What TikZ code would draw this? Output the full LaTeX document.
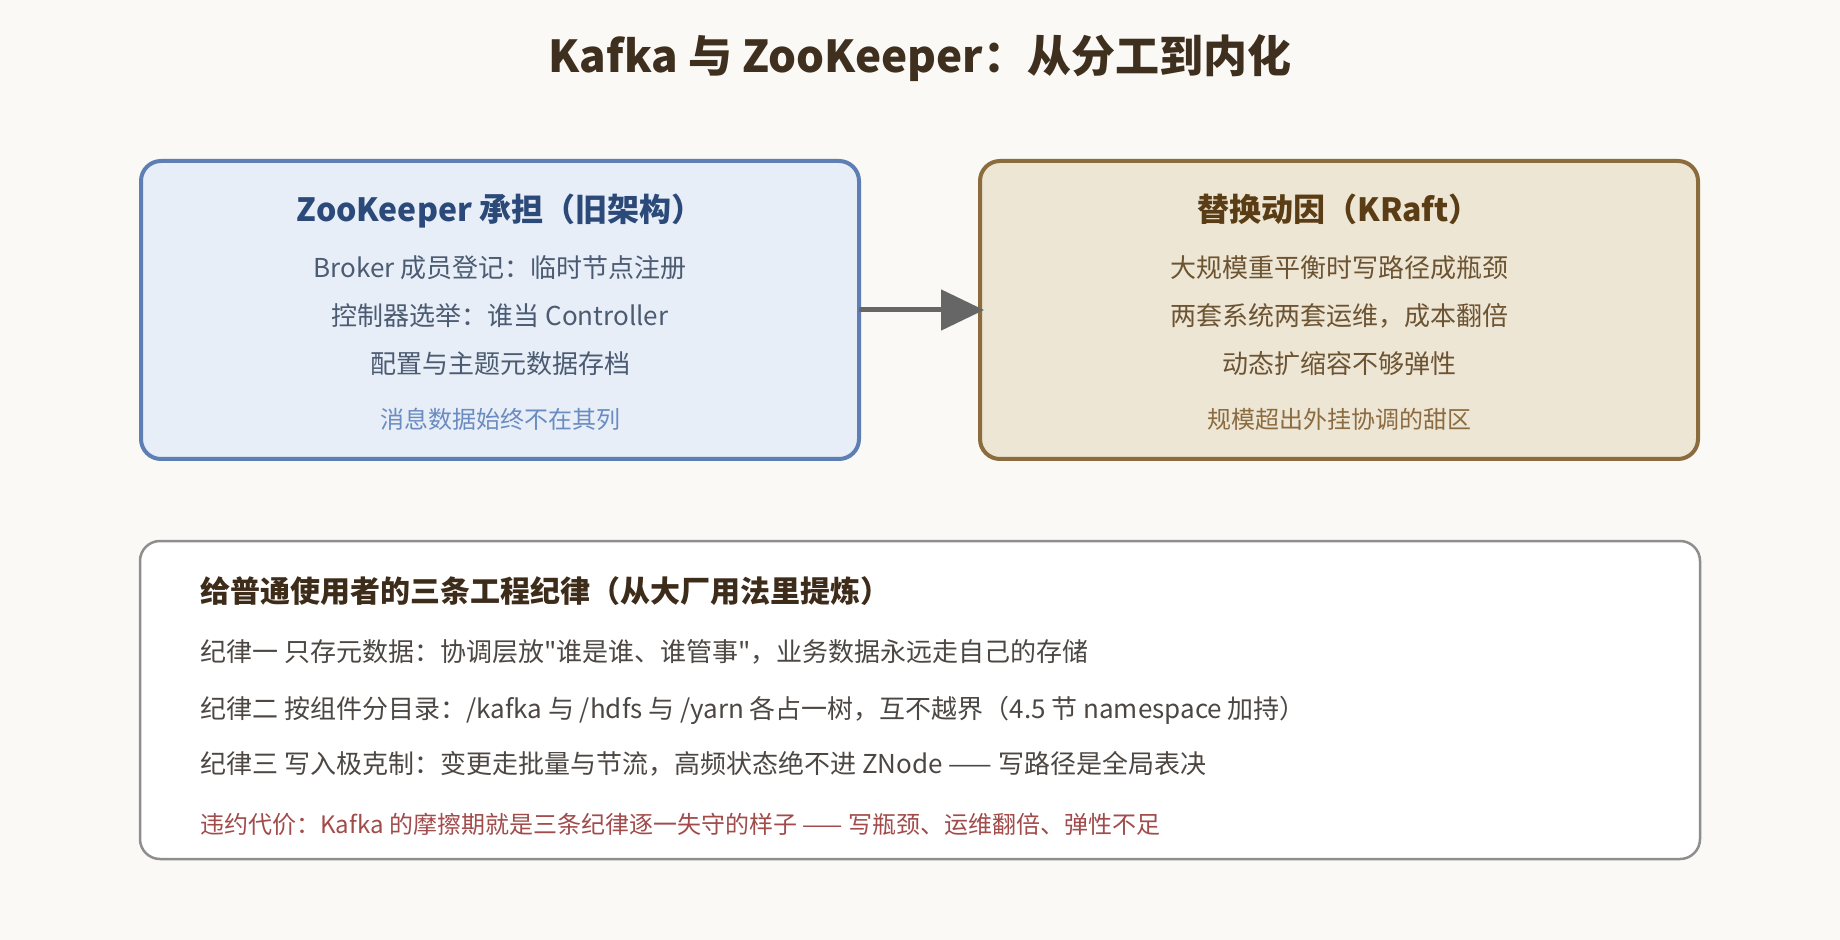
\documentclass[tikz,border=0pt]{standalone}
\usepackage{fontspec}
\setmainfont{Noto Sans CJK SC}[Ligatures=TeXOff]
\usetikzlibrary{positioning,arrows.meta}
\definecolor{bgcream}{HTML}{FAF9F5}
\definecolor{zkfill}{HTML}{E7EEF8}
\definecolor{zkline}{HTML}{5D7FB4}
\definecolor{zktitle}{HTML}{2C4A79}
\definecolor{zkbody}{HTML}{4B5B72}
\definecolor{zknote}{HTML}{6A8CC0}
\definecolor{krfill}{HTML}{EEE6D5}
\definecolor{krline}{HTML}{8C6B3C}
\definecolor{krtitle}{HTML}{5A3D15}
\definecolor{krbody}{HTML}{6C5433}
\definecolor{krnote}{HTML}{8B6B40}
\definecolor{ruleline}{HTML}{8E8E8E}
\definecolor{rulehead}{HTML}{3E2C1B}
\definecolor{rulebody}{HTML}{4D4743}
\definecolor{rulewarn}{HTML}{A24B4B}
\definecolor{maintitle}{HTML}{3F2F1F}
\definecolor{arrowgray}{HTML}{666666}

\begin{document}
\begin{tikzpicture}[
          x=0.5pt,y=-0.5pt,
          card/.style={rounded corners=10pt,line width=2pt,minimum width=359pt,minimum height=149pt},
          zk/.style={card,draw=zkline,fill=zkfill},
          kr/.style={card,draw=krline,fill=krfill},
          rules/.style={draw=ruleline,fill=white,rounded corners=10pt,line width=1.25pt,minimum width=780pt,minimum height=159pt},
          txt/.style={inner sep=0pt,anchor=base},
          body/.style={txt,font=\fontsize{13pt}{15pt}\selectfont},
          head/.style={txt,font=\bfseries\fontsize{16pt}{19pt}\selectfont},
          note/.style={txt,font=\fontsize{12pt}{14pt}\selectfont},
          rule/.style={body,anchor=base west}
            ]
    \fill[bgcream] (0,0) rectangle (1840,940);
    \useasboundingbox (0,0) rectangle (1840,940);

    \node[txt,font=\bfseries\fontsize{22pt}{26pt}\selectfont,text=maintitle] (title) at (920,72.5) {Kafka 与 ZooKeeper：从分工到内化};

    % old architecture
    \node[zk] (old) at (500,310) {};
    \node[head,text=zktitle] (oldt) at (500,222) {ZooKeeper 承担（旧架构）};
    \node[body,text=zkbody] (old1) at (500,277.5) {Broker 成员登记：临时节点注册};
    \node[body,text=zkbody] (old2) at (500,325.5) {控制器选举：谁当 Controller};
    \node[body,text=zkbody] (old3) at (500,374) {配置与主题元数据存档};
    \node[note,text=zknote] (oldn) at (500,429) {消息数据始终不在其列};

    % motives
    \node[kr] (kraft) at (1339,310) {};
    \node[head,text=krtitle] (krt) at (1339,222) {替换动因（KRaft）};
    \node[body,text=krbody] (kr1) at (1339,277.5) {大规模重平衡时写路径成瓶颈};
    \node[body,text=krbody] (kr2) at (1339,325.5) {两套系统两套运维，成本翻倍};
    \node[body,text=krbody] (kr3) at (1339,374) {动态扩缩容不够弹性};
    \node[note,text=krnote] (krn) at (1339,429) {规模超出外挂协调的甜区};

    \path (old) edge[draw=arrowgray,line width=2.5pt,-{Triangle[length=21.5pt,width=20pt]},shorten <=-1pt,shorten >=-3pt] (kraft);

    % rules
    \node[rules] (rulebox) at (920,700) {};
    \node[txt,anchor=base west,font=\bfseries\fontsize{15pt}{18pt}\selectfont,text=rulehead] (ruleh) at (200,602) {给普通使用者的三条工程纪律（从大厂用法里提炼）};
    \node[rule,text=rulebody] (rule1) at (200,661.5) {纪律一 只存元数据：协调层放"谁是谁、谁管事"，业务数据永远走自己的存储};
    \node[rule,text=rulebody] (rule2) at (200,718) {纪律二 按组件分目录：/kafka 与 /hdfs 与 /yarn 各占一树，互不越界（4.5 节 namespace 加持）};
    \node[rule,text=rulebody] (rule3) at (200,773.5) {纪律三 写入极克制：变更走批量与节流，高频状态绝不进 ZNode —— 写路径是全局表决};
    \node[note,anchor=base west,text=rulewarn] (rulew) at (200,833) {违约代价：Kafka 的摩擦期就是三条纪律逐一失守的样子 —— 写瓶颈、运维翻倍、弹性不足};
\end{tikzpicture}
\end{document}
